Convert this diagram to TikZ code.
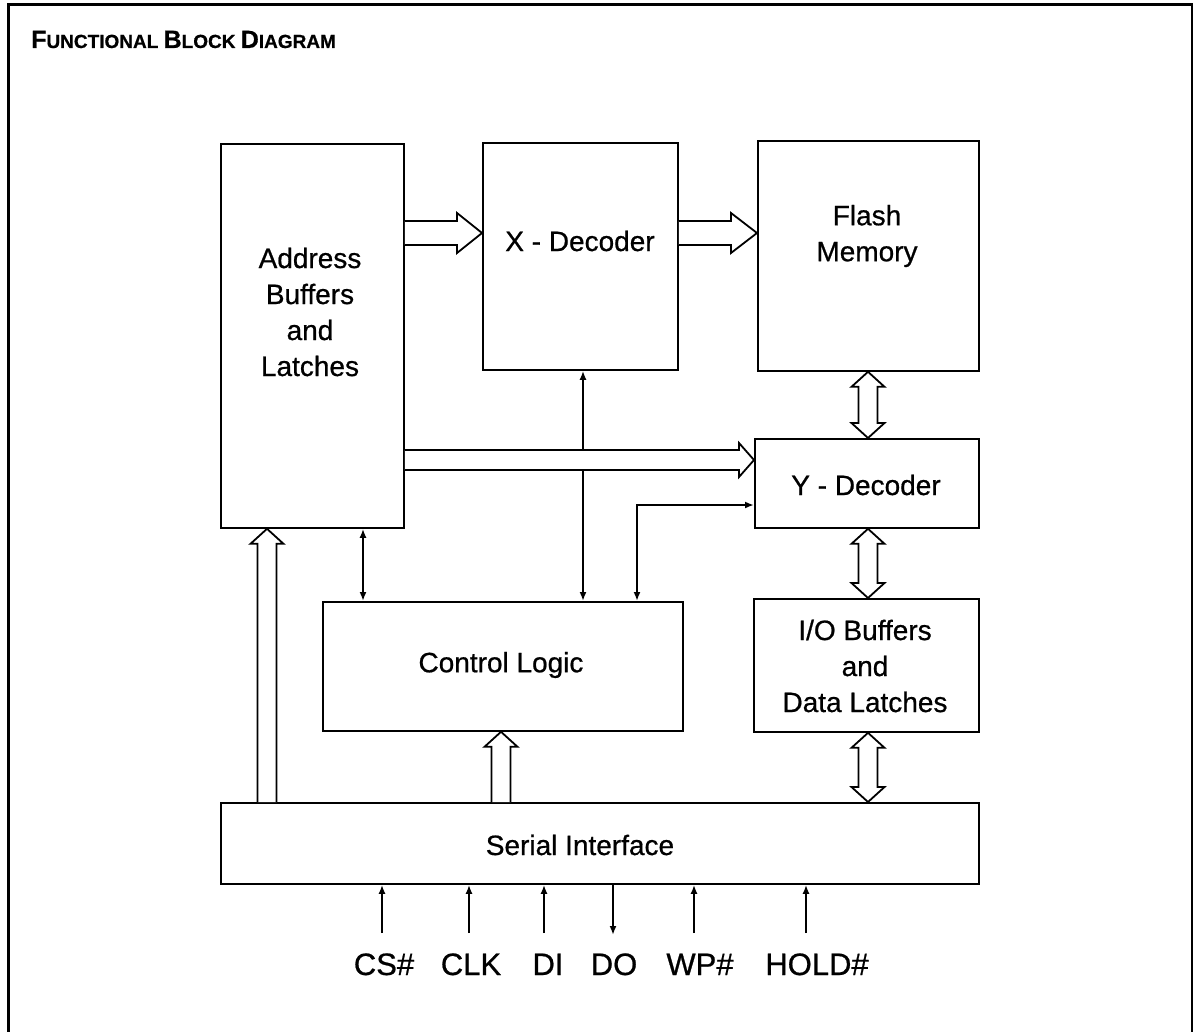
\documentclass[tikz,border=0pt]{standalone}
\usepackage{fontspec}
\setmainfont{Liberation Sans}[RawFeature={embolden=0.7}]
\usetikzlibrary{arrows.meta}
\tikzset{
  box/.style={draw, line width=1.8pt, inner sep=0pt, anchor=north west},
  lbl/.style={font=\fontsize{28}{36}\selectfont, align=center, inner sep=0pt},
  hollow/.style={draw, fill=white, line width=1.8pt, line join=miter},
  thin/.style={line width=1.8pt},
  tip/.style={-{Latex[length=9pt,width=7pt]}},
  tips/.style={{Latex[length=9pt,width=7pt]}-{Latex[length=9pt,width=7pt]}},
  sig/.style={font=\fontsize{31}{36}\selectfont, anchor=base},
}
% right-pointing hollow arrow: #1 start, #2 tip, #3 body half, #4 head half, #5 head length
\newcommand\hollowRight[5]{%
  \path[hollow] ([yshift=#3]#1) -- ([xshift=-#5,yshift=#3]#2) -- ([xshift=-#5,yshift=#4]#2) -- (#2)
    -- ([xshift=-#5,yshift=-#4]#2) -- ([xshift=-#5,yshift=-#3]#2) -- ([yshift=-#3]#1);}
% up-pointing hollow arrow
\newcommand\hollowUp[5]{%
  \path[hollow] ([xshift=-#3]#1) -- ([xshift=-#3,yshift=-#5]#2) -- ([xshift=-#4,yshift=-#5]#2) -- (#2)
    -- ([xshift=#4,yshift=-#5]#2) -- ([xshift=#3,yshift=-#5]#2) -- ([xshift=#3]#1);}
% double vertical hollow arrow, #1 top tip, #2 bottom tip
\newcommand\hollowBoth[5]{%
  \path[hollow] (#1) -- ([xshift=#4,yshift=-#5]#1) -- ([xshift=#3,yshift=-#5]#1)
    -- ([xshift=#3,yshift=#5]#2) -- ([xshift=#4,yshift=#5]#2) -- (#2)
    -- ([xshift=-#4,yshift=#5]#2) -- ([xshift=-#3,yshift=#5]#2)
    -- ([xshift=-#3,yshift=-#5]#1) -- ([xshift=-#4,yshift=-#5]#1) -- cycle;}
\begin{document}
\begin{tikzpicture}[x=1pt,y=-1pt]
\useasboundingbox (0,0) rectangle (1193,1032);
% outer frame
\draw[line width=3pt] (8,1040) -- (8,5) -- (1192,5) -- (1192,1040);
\node[anchor=base west, inner sep=0pt, font=\bfseries] (title) at (31,48)
  {\fontsize{25}{30}\selectfont F\fontsize{19}{30}\selectfont UNCTIONAL
   \fontsize{25}{30}\selectfont B\fontsize{19}{30}\selectfont LOCK
   \fontsize{25}{30}\selectfont D\fontsize{19}{30}\selectfont IAGRAM};

% boxes
\node[box, minimum width=183pt, minimum height=384pt] (addr) at (220,143) {};
\node[lbl] (addrtxt) at (310,312) {Address\\Buffers\\and\\Latches};
\node[box, minimum width=195pt, minimum height=227pt] (xdec) at (482,142) {};
\node[lbl] (xtxt) at (580,241) {X - Decoder};
\node[box, minimum width=221pt, minimum height=230pt] (flash) at (757,140) {};
\node[lbl] (ftxt) at (867,236) {Flash\\Memory};
\node[box, minimum width=224pt, minimum height=89pt] (ydec) at (754,438) {};
\node[lbl] (ytxt) at (866,485) {Y - Decoder};
\node[box, minimum width=360pt, minimum height=129pt] (ctrl) at (322,601) {};
\node[lbl] (ctxt) at (501,665) {Control Logic};
\node[box, minimum width=225pt, minimum height=133pt] (io) at (753,598) {};
\node[lbl] (iotxt) at (865,666) {I/O Buffers\\and\\Data Latches};
\node[box, minimum width=758pt, minimum height=81pt] (ser) at (220,802) {};
\node[lbl] (stxt) at (580,845) {Serial Interface};

% helper coordinates
\coordinate (ya) at (0,233);
\coordinate (yb) at (0,460);
\coordinate (xa) at (267,0);
\coordinate (xb) at (501,0);
\coordinate (xc) at (868,0);
\coordinate (xd) at (583,0);
\coordinate (xe) at (637,0);
\coordinate (xf) at (363,0);
\coordinate (ye) at (0,505);

% thin connectors (drawn first, under the hollow arrow)
\draw[thin, tips] (xdec.south -| xd) -- (ctrl.north -| xd);
\draw[thin, tips] (ctrl.north -| xe) |- (ydec.west |- ye);
\draw[thin, tips] (addr.south -| xf) -- (ctrl.north -| xf);

% hollow arrows
\coordinate (a1) at (addr.east |- ya);
\coordinate (a2) at (xdec.west |- ya);
\hollowRight{a1}{a2}{12}{20}{25}
\coordinate (b1) at (xdec.east |- ya);
\coordinate (b2) at (flash.west |- ya);
\hollowRight{b1}{b2}{12}{20}{26}
\coordinate (c1) at (addr.east |- yb);
\coordinate (c2) at (ydec.west |- yb);
\hollowRight{c1}{c2}{10}{17}{15}
\coordinate (d1) at (ser.north -| xa);
\coordinate (d2) at (addr.south -| xa);
\hollowUp{d1}{d2}{9.5}{16.5}{15}
\coordinate (e1) at (ser.north -| xb);
\coordinate (e2) at (ctrl.south -| xb);
\hollowUp{e1}{e2}{9.5}{16.5}{15}
\coordinate (f1) at (flash.south -| xc);
\coordinate (f2) at (ydec.north -| xc);
\hollowBoth{f1}{f2}{9.5}{16.5}{15}
\coordinate (g1) at (ydec.south -| xc);
\coordinate (g2) at (io.north -| xc);
\hollowBoth{g1}{g2}{9.5}{16.5}{15}
\coordinate (h1) at (io.south -| xc);
\coordinate (h2) at (ser.north -| xc);
\hollowBoth{h1}{h2}{9.5}{16.5}{15}

% signals
\node[sig] (cs) at (384,975) {CS\#};
\node[sig] (clk) at (471,975) {CLK};
\node[sig] (di) at (548,975) {DI};
\node[sig] (do) at (614,975) {DO};
\node[sig] (wp) at (700,975) {WP\#};
\node[sig] (hold) at (817,975) {HOLD\#};
\coordinate (s1) at (382,933);
\coordinate (s2) at (469,933);
\coordinate (s3) at (544,933);
\coordinate (s4) at (613,935);
\coordinate (s5) at (694,933);
\coordinate (s6) at (806,933);
\draw[thin, tip] (s1) -- (ser.south -| s1);
\draw[thin, tip] (s2) -- (ser.south -| s2);
\draw[thin, tip] (s3) -- (ser.south -| s3);
\draw[thin, tip] (ser.south -| s4) -- (s4);
\draw[thin, tip] (s5) -- (ser.south -| s5);
\draw[thin, tip] (s6) -- (ser.south -| s6);
\end{tikzpicture}
\end{document}
